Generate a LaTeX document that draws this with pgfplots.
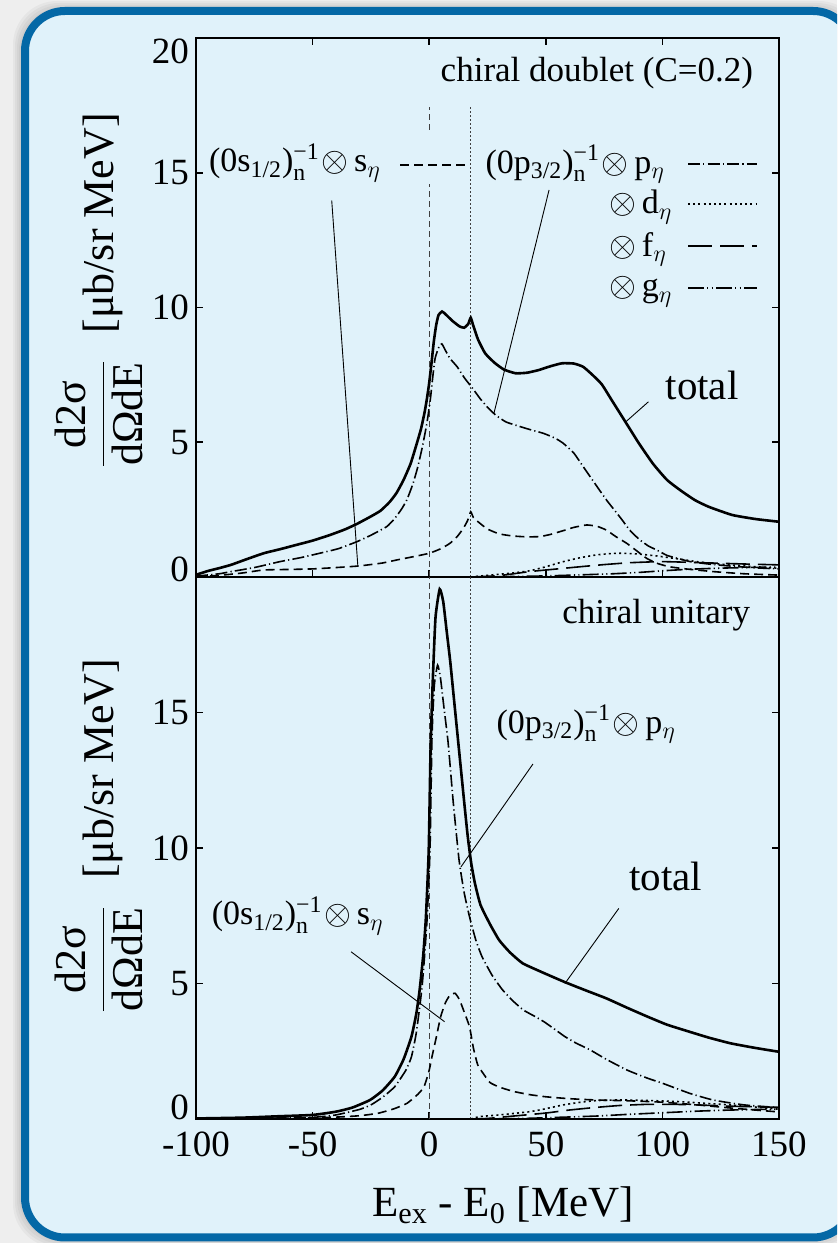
\documentclass[border=0pt]{standalone}
\usepackage{fontspec}
\setmainfont{Liberation Serif}
\usepackage{amsmath}
\usepackage{pgfplots}
\pgfplotsset{compat=1.18}

\definecolor{panelbg}{RGB}{224,242,250}
\definecolor{panelframe}{RGB}{4,104,166}
\definecolor{pagebg}{RGB}{238,238,238}

\tikzset{
  totalline/.style={black, line width=1.3pt},
  sline/.style={black, line width=0.8pt, dash pattern=on 4.5pt off 2.5pt},
  pline/.style={black, line width=0.8pt, dash pattern=on 6pt off 1.6pt on 0.6pt off 1.6pt},
  dline/.style={black, line width=0.8pt, dash pattern=on 1pt off 1.6pt},
  fline/.style={black, line width=0.8pt, dash pattern=on 12pt off 4pt},
  gline/.style={black, line width=0.8pt, dash pattern=on 8pt off 1.6pt on 0.6pt off 1.6pt on 0.6pt off 1.6pt},
  leader/.style={black, line width=0.45pt},
  zeroline/.style={black!75, line width=0.5pt, dash pattern=on 3pt off 2pt},
  thrline/.style={black!75, line width=0.5pt, dash pattern=on 0.8pt off 1.2pt},
}

\newcommand{\txtfont}{\fontsize{17.5}{20}\selectfont}
\newcommand{\keyfont}{\fontsize{17}{20}\selectfont}
% hole state (0l_j)_n^{-1} followed by the product sign
\newcommand{\hole}[2]{(0#1\textsubscript{#2})$^{\text{−1}}_{\text{n}}\mkern1mu\otimes$\,}

\pgfplotsset{
  panel/.style={
    scale only axis, width=291.5pt,
    xmin=-100, xmax=150, ymin=0, ymax=20,
    axis line style={line width=1.2pt},
    tick align=inside, major tick length=3.5pt,
    every tick/.style={black, line width=0.8pt},
    xtick={-100,-50,0,50,100,150},
    tick label style={font=\fontsize{18.5}{20}\selectfont},
    xticklabel style={yshift=-3pt},
    /pgf/number format/assume math mode=true,
    ylabel={$\displaystyle\frac{\text{d2σ}}{\text{dΩdE}}$\hspace{0.6em}[μb/sr MeV]},
    ylabel style={font=\fontsize{22}{26}\selectfont, anchor=center},
  }
}

\begin{document}
\begin{tikzpicture}
\useasboundingbox (0,0) rectangle (418.5pt,621.5pt);
\begin{scope}
  \clip (0,0) rectangle (418.5pt,621.5pt);
  \fill[pagebg] (0,0) rectangle (418.5pt,621.5pt);
  \foreach \e in {1,2,3,4,5}{
    \fill[black, opacity=0.035, rounded corners=22pt]
      (12.5pt-\e pt-1pt,2.75pt-\e pt) rectangle (426.5pt+\e pt,616pt+\e pt);
  }
  \draw[panelframe, line width=4pt, fill=panelbg, rounded corners=20pt]
    (12.5pt,2.75pt) rectangle (426.5pt,616pt);
\end{scope}

% ---------------- upper panel: chiral doublet ----------------
\begin{axis}[panel, at={(98pt,333pt)}, anchor=south west, height=269.5pt,
  xtick pos=both, xticklabels={},
  ytick={0,5,10,15,20},
  yticklabels={\raisebox{4pt}[\height][\depth]{0},5,10,15,\raisebox{-6.5pt}[\height][\depth]{20}},
  ylabel style={at={(axis description cs:-0.1664,0.531)}},
]
% threshold markers
\addplot[zeroline] coordinates {(0,0) (0,14.6)};
\addplot[zeroline] coordinates {(0,16.6) (0,17.44)};
\addplot[thrline] coordinates {(17.8,0) (17.8,17.5)};

% total
\addplot[totalline, smooth, tension=0.3] coordinates {
(-100,0.08) (-95,0.22) (-90,0.33) (-85,0.45) (-78.3,0.66) (-71,0.88) (-64,1.03)
(-57,1.19) (-50,1.35) (-42.5,1.56) (-36,1.77) (-31,1.97) (-26,2.2) (-21,2.45)
(-17,2.78) (-14,3.12) (-11,3.6) (-8,4.2) (-5.5,4.9) (-3.5,5.5) (-2,6.1)
(-1,6.6) (0,7.2) (1,7.95) (2,8.75) (3,9.35) (4,9.72) (5.5,9.85) (7,9.75)
(10,9.5) (13,9.3) (15,9.25) (16.8,9.4) (17.8,9.62) (19,9.3) (21,8.8) (24,8.3)
(28,7.95) (32,7.7) (37,7.56) (42,7.58) (47,7.68) (52,7.82) (57,7.93) (62,7.92)
(66,7.8) (70,7.5) (74,7.15) (78,6.6) (82,6.05) (86,5.5) (90,4.95) (96,4.2)
(102,3.6) (108,3.2) (114,2.85) (120,2.6) (130,2.3) (140,2.15) (150,2.05)
};
% (0p3/2)^-1 x p_eta
\addplot[pline, smooth, tension=0.3] coordinates {
(-100,0.03) (-90,0.12) (-85,0.2) (-75,0.35) (-64,0.57) (-55,0.72) (-47,0.88)
(-39,1.05) (-31,1.31) (-25,1.55) (-18.2,1.87) (-15,2.15) (-12,2.5) (-9.6,2.86)
(-7,3.45) (-5,4.05) (-3,4.8) (-1,5.7) (0.5,6.6) (1.5,7.4) (2.5,8.1) (4,8.5)
(5.4,8.65) (7,8.4) (9,8.1) (12,7.8) (15,7.4) (18.6,7.0) (22,6.6) (25,6.3)
(28.6,6.0) (33,5.75) (39,5.58) (44,5.45) (49,5.33) (54,5.15) (57.5,4.96)
(62,4.6) (66,4.1) (70,3.6) (76,2.86) (82,2.2) (86,1.74) (90,1.4) (94,1.15)
(97.6,1.0) (102,0.8) (107,0.68) (112,0.57) (120,0.48) (130,0.4) (140,0.34)
(150,0.3)
};
% (0s1/2)^-1 x s_eta
\addplot[sline, smooth, tension=0.3] coordinates {
(-100,0.02) (-90,0.06) (-80,0.15) (-71,0.26) (-60,0.28) (-50,0.3) (-40,0.35)
(-30,0.41) (-20,0.52) (-14,0.63) (-7,0.75) (0,0.88) (5,1.05) (8.9,1.25)
(12,1.5) (14.6,1.8) (16.5,2.1) (17.8,2.42) (19,2.2) (21.8,1.99) (25,1.78)
(30,1.6) (36,1.52) (42,1.49) (47.5,1.5) (52,1.58) (57.5,1.72) (62,1.84)
(67.5,1.93) (72,1.88) (76,1.74) (80,1.5) (84.7,1.25) (89,0.97) (93.3,0.69)
(98,0.5) (103,0.38) (110,0.3) (121.8,0.2) (135,0.12) (150,0.07)
};
% x d_eta
\addplot[dline, smooth, tension=0.3] coordinates {
(17.8,0) (26,0.07) (35,0.14) (43,0.23) (50,0.38) (57.5,0.57) (65,0.72)
(71.8,0.82) (78,0.87) (83,0.88) (90,0.85) (97.6,0.78) (106,0.68) (114.7,0.57)
(122,0.5) (129,0.45) (140,0.38) (150,0.32)
};
% x f_eta
\addplot[fline, smooth, tension=0.3] coordinates {
(17.8,0) (30,0.05) (43,0.2) (55,0.3) (64.7,0.38) (75,0.46) (86,0.53)
(100,0.57) (117,0.53) (136,0.48) (150,0.45)
};
% x g_eta
\addplot[gline, smooth, tension=0.3] coordinates {
(17.8,0) (30,0.01) (50,0.04) (65,0.08) (78.8,0.12) (90,0.17) (100,0.23)
(110,0.28) (121.7,0.32) (135,0.35) (150,0.37)
};

% key
\node[anchor=base east, font=\keyfont] at (axis cs:-17.7,15.03) {\hole{s}{1/2}s$_\eta$};
\draw[sline] (axis cs:-12.5,15.29) -- (axis cs:15.8,15.29);
\node[anchor=base east, font=\keyfont] at (axis cs:104.1,14.99) {\hole{p}{3/2}p$_\eta$};
\draw[pline] (axis cs:111,15.32) -- (axis cs:140.6,15.32);
\node[anchor=base west, font=\keyfont, inner sep=0pt] at (axis cs:77.1,13.47) {$\otimes$\,d$_\eta$};
\draw[dline] (axis cs:111,13.84) -- (axis cs:140.6,13.84);
\node[anchor=base west, font=\keyfont, inner sep=0pt] at (axis cs:77.1,11.91) {$\otimes$\,f$_\eta$};
\draw[fline] (axis cs:111,12.28) -- (axis cs:140.6,12.28);
\node[anchor=base west, font=\keyfont, inner sep=0pt] at (axis cs:77.1,10.39) {$\otimes$\,g$_\eta$};
\draw[gline] (axis cs:111,10.72) -- (axis cs:140.6,10.72);

\node[anchor=base east, font=\txtfont] at (axis cs:141.9,18.37) {chiral doublet (C=0.2)};
\node[anchor=base, font=\fontsize{20.5}{22}\selectfont] at (axis cs:117,6.57) {total};

% pointers
\draw[leader] (axis cs:-41.8,13.97) -- (axis cs:-30.6,0.41);
\draw[leader] (axis cs:51.4,14.36) -- (axis cs:27.7,6.05);
\draw[leader] (axis cs:94,6.5) -- (axis cs:84.2,5.75);
\end{axis}

% ---------------- lower panel: chiral unitary ----------------
\begin{axis}[panel, at={(98pt,62pt)}, anchor=south west, height=271pt,
  xtick pos=bottom,
  ytick={0,5,10,15},
  yticklabels={\raisebox{6pt}[\height][\depth]{0},5,10,15},
  ylabel style={at={(axis description cs:-0.1664,0.522)}},
  xlabel={E\textsubscript{ex} - E\textsubscript{0} [MeV]},
  xlabel style={font=\fontsize{21.5}{24}\selectfont, at={(axis description cs:0.5266,-0.159)}, anchor=center},
]
\addplot[zeroline] coordinates {(0,0) (0,20)};
\addplot[thrline] coordinates {(17.8,0) (17.8,20)};

% total
\addplot[totalline, smooth, tension=0.3] coordinates {
(-100,0.02) (-80,0.05) (-65,0.1) (-50,0.15) (-40,0.27) (-33,0.42) (-25.4,0.7)
(-20,1.05) (-14.8,1.56) (-11,2.2) (-7.6,3.04) (-5.5,3.9) (-4.1,4.76)
(-2.5,6.1) (-1.4,7.46) (-0.2,9.93) (0.6,13.7) (1.5,16.1) (2.7,18.5)
(4.5,19.55) (6,19.1) (7.5,18.0) (9,16.9) (10.5,15.6) (12,14.3) (13.5,13.0)
(15,11.7) (16.5,10.45) (18,9.45) (19.6,8.7) (22,7.9) (26,7.2) (30,6.6)
(34.6,6.15) (40,5.75) (47.5,5.45) (58.2,5.05) (67,4.75) (76,4.45) (85,4.1)
(93.8,3.77) (102,3.48) (111.6,3.22) (120,3.0) (129.4,2.79) (140,2.62)
(150,2.48)
};
% (0p3/2)^-1 x p_eta
\addplot[pline, smooth, tension=0.3] coordinates {
(-100,0.01) (-70,0.03) (-50,0.06) (-40,0.15) (-30,0.35) (-25,0.52) (-20,0.8)
(-14.8,1.19) (-10,1.8) (-7.6,2.3) (-5.5,3.2) (-3.2,4.76) (-2,6.0)
(-0.85,7.46) (0.35,9.93) (1.2,14.1) (2.2,16.0) (3.6,16.75) (4.8,16.3)
(6.3,15.2) (8.1,13.9) (10.3,11.7) (12.8,9.56) (15,8.35) (17.3,7.46) (20,6.6)
(22.6,6.0) (27,5.3) (31.5,4.76) (36,4.35) (40.4,4.02) (45,3.8) (49.2,3.59)
(54,3.3) (58.2,3.04) (63,2.8) (69,2.55) (76,2.2) (85,1.8) (93.8,1.5)
(100,1.32) (111.6,0.95) (121.8,0.7) (135,0.52) (150,0.42)
};
% (0s1/2)^-1 x s_eta
\addplot[sline, smooth, tension=0.3] coordinates {
(-100,0) (-60,0.03) (-40,0.07) (-30,0.12) (-22,0.21) (-15,0.38) (-9.5,0.58)
(-5,0.9) (-2.2,1.19) (0,1.8) (1.2,2.3) (3,3.0) (4.9,3.77) (7,4.3) (9,4.58)
(11.1,4.64) (13,4.4) (15,3.95) (17.3,3.4) (19,2.6) (20.8,2.0) (23,1.7)
(26,1.35) (30,1.18) (36,1.02) (43,0.9) (50,0.82) (60,0.75) (72,0.7)
(86,0.67) (100,0.62) (115,0.52) (130,0.4) (150,0.26)
};
% x d_eta
\addplot[dline, smooth, tension=0.3] coordinates {
(17.8,0) (21.8,0.09) (30,0.15) (43.2,0.27) (50,0.38) (57.5,0.52) (65,0.62)
(71.8,0.68) (80,0.7) (86,0.7) (95,0.68) (107.5,0.64) (118,0.58) (129,0.52)
(140,0.44) (150,0.36)
};
% x f_eta
\addplot[fline, smooth, tension=0.3] coordinates {
(17.8,0) (25,0.02) (35,0.1) (50,0.22) (60,0.33) (71.8,0.43) (82,0.5)
(93.3,0.54) (105,0.54) (114.7,0.52) (130,0.47) (150,0.43)
};
% x g_eta
\addplot[gline, smooth, tension=0.3] coordinates {
(17.8,0) (40,0.02) (55,0.06) (72,0.11) (85,0.17) (100,0.23) (115,0.29)
(129,0.33) (140,0.35) (150,0.36)
};

\node[anchor=base east, font=\txtfont] at (axis cs:140.6,18.3) {chiral unitary};
\node[anchor=base east, font=\keyfont] at (axis cs:108.8,14.24) {\hole{p}{3/2}p$_\eta$};
\node[anchor=base east, font=\keyfont] at (axis cs:-16.5,7.16) {\hole{s}{1/2}s$_\eta$};
\node[anchor=base, font=\fontsize{20.5}{22}\selectfont] at (axis cs:101.4,8.45) {total};

\draw[leader] (axis cs:44.5,13.1) -- (axis cs:13.6,9.3);
\draw[leader] (axis cs:-33.5,6.17) -- (axis cs:6.6,3.59);
\draw[leader] (axis cs:81.3,7.77) -- (axis cs:58.2,5.0);
\end{axis}
\end{tikzpicture}
\end{document}
